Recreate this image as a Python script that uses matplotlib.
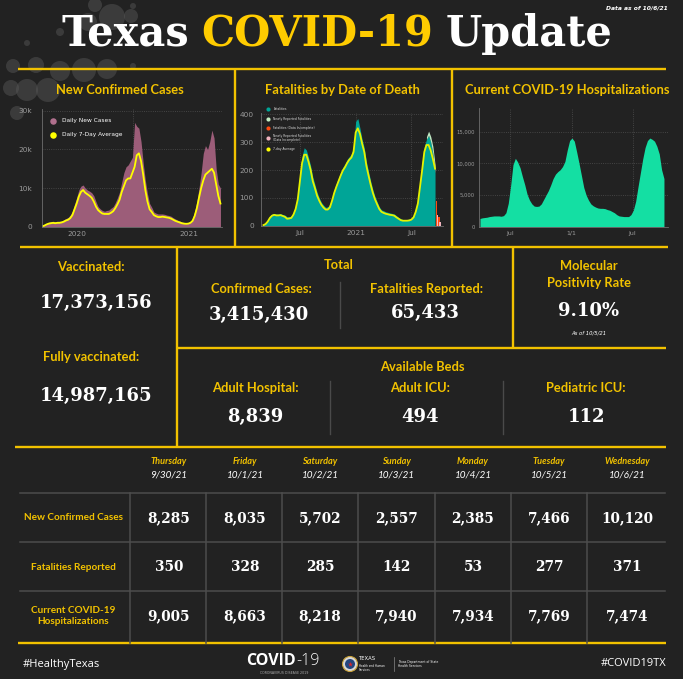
#!/usr/bin/env python3
import numpy as np
import matplotlib
matplotlib.use("Agg")
import matplotlib.pyplot as plt
from matplotlib.patches import Circle

# ---- data ----
updated = "10/6/21"

# weekly bins (value = tallest daily bar in the week / 7-day average)
cases_start = "2020-03-08"
cases_daily = [200, 500, 900, 1200, 1300, 1400, 1300, 1400, 1400, 1500,
               1800, 2100, 2400, 3000, 4000, 5800, 7500, 9500, 10500, 10800,
               10000, 9500, 9200, 8800, 8000, 6500, 5200, 4600, 4200, 4000,
               4200, 4300, 4800, 5200, 6200, 7500, 9000, 11500, 14000, 15500,
               16000, 17000, 18000, 27000, 26000, 25500, 22000, 16500, 12000, 8500,
               6000, 5000, 3800, 3500, 3300, 3300, 3300, 3200, 3000, 2900,
               2700, 2300, 2000, 1700, 1500, 1200, 1100, 1000, 1100, 1400,
               2200, 4000, 6500, 10000, 14000, 19000, 21000, 20000, 22000, 25000,
               23000, 15000, 11000, 10000]
cases_avg = [100, 300, 600, 800, 900, 1000, 900, 1000, 1000, 1100,
             1300, 1600, 1800, 2200, 3000, 4500, 6000, 7800, 9000, 9500,
             8800, 8400, 8000, 7500, 6500, 5200, 4300, 3800, 3400, 3300,
             3300, 3300, 3600, 4000, 4800, 5800, 7000, 9000, 10500, 12000,
             12500, 12500, 14000, 15500, 18500, 19000, 17000, 13500, 9500, 6500,
             4500, 3800, 3000, 2700, 2500, 2500, 2600, 2500, 2400, 2300,
             2100, 1800, 1500, 1300, 1100, 900, 800, 750, 800, 1000,
             1500, 2800, 4800, 7500, 10000, 12000, 13500, 14000, 14500, 15000,
             14000, 11000, 8000, 6000]

deaths_start = "2020-03-02"
deaths_daily = [3, 10, 22, 35, 42, 44, 42, 42, 43, 40,
                38, 32, 32, 35, 48, 72, 115, 190, 250, 280,
                272, 245, 215, 175, 148, 120, 100, 84, 74, 66,
                68, 78, 102, 130, 152, 172, 192, 210, 222, 238,
                248, 258, 285, 375, 385, 350, 310, 280, 230, 195,
                160, 130, 105, 86, 68, 57, 54, 50, 48, 46,
                44, 42, 36, 30, 25, 22, 22, 22, 24, 28,
                38, 60, 95, 160, 230, 285, 310, 325, 300, 260,
                190]
deaths_avg = [2, 6, 15, 28, 36, 39, 37, 37, 38, 35,
              32, 25, 26, 28, 40, 60, 95, 160, 225, 255,
              255, 230, 200, 160, 135, 108, 90, 75, 65, 58,
              58, 66, 90, 118, 140, 160, 180, 198, 210, 225,
              237, 245, 265, 335, 350, 330, 295, 265, 215, 180,
              147, 118, 95, 77, 60, 50, 46, 43, 41, 39,
              38, 36, 30, 25, 20, 18, 18, 18, 19, 22,
              30, 50, 80, 140, 200, 265, 290, 290, 270, 240,
              205]
newly_dates = ["2021-08-16", "2021-08-23", "2021-08-30", "2021-09-06", "2021-09-13"]
newly_reported = [10, 15, 20, 25, 30]
incomplete_dates = ["2021-09-20", "2021-09-27"]
incomplete = [90, 30]
newly_incomplete = [40, 15]

hosp_start = "2020-04-01"
hosp = [1300, 1400, 1450, 1500, 1600, 1650, 1700, 1700, 1700, 1650,
        1750, 2200, 3700, 6500, 9800, 10800, 10200, 9300, 7900, 6600,
        5100, 4200, 3600, 3250, 3200, 3250, 3600, 4300, 5000, 5700,
        6600, 7600, 8300, 8700, 9000, 9500, 10300, 12100, 13600, 14000,
        13500, 11800, 10000, 8100, 6200, 5000, 4200, 3600, 3300, 3100,
        2950, 2900, 2900, 2850, 2700, 2600, 2400, 2200, 1900, 1700,
        1650, 1600, 1600, 1600, 1900, 2600, 4000, 6300, 8500, 10700,
        12500, 13600, 14000, 13800, 13500, 12700, 11500, 9000, 7600]

vaccinated = 17373156
fully_vaccinated = 14987165
total_cases = 3415430
total_deaths = 65433
positivity = 9.10
positivity_date = "10/5/21"
bed_labels = ["Adult Hospital:", "Adult ICU:", "Pediatric ICU:"]
beds = [8839, 494, 112]

days = ["Thursday", "Friday", "Saturday", "Sunday", "Monday", "Tuesday", "Wednesday"]
day_dates = ["9/30/21", "10/1/21", "10/2/21", "10/3/21", "10/4/21", "10/5/21", "10/6/21"]
row_labels = ["New Confirmed Cases", "Fatalities Reported", "Current COVID-19\nHospitalizations"]
new_cases = [8285, 8035, 5702, 2557, 2385, 7466, 10120]
fatalities = [350, 328, 285, 142, 53, 277, 371]
hospitalized = [9005, 8663, 8218, 7940, 7934, 7769, 7474]

# ---- style ----
W, H = 683, 679
BG = '#222222'
GOLD = '#f2c200'
TITLE_GOLD = '#ffcc00'
TICK = '#9a9a9a'
LBL = dict(family='Lato', weight='bold', color=GOLD)
NUM = dict(family='DejaVu Serif', weight='bold', color='white')

fig = plt.figure(figsize=(W / 100, H / 100), dpi=100, facecolor=BG)
bg = fig.add_axes([0, 0, 1, 1])
bg.set_xlim(0, W)
bg.set_ylim(H, 0)
bg.axis('off')
R = fig.canvas.get_renderer()

# decorative bubbles top left
for x, y, r in [(112, 17, 13), (88, 22, 9), (95, 5, 7), (131, 16, 7), (60, 32, 4),
                (27, 43, 3), (133, 6, 3), (13, 66, 7), (36, 65, 8), (60, 71, 10),
                (84, 70, 12), (107, 69, 10), (133, 66, 3), (27, 90, 11), (48, 90, 12),
                (11, 88, 8), (17, 113, 7)]:
    bg.add_patch(Circle((x, y), r, color='#5a5a5a', alpha=0.45, lw=0, zorder=0))

# title
parts = [("Texas", 'white'), ("COVID-19", TITLE_GOLD), ("Update", 'white')]
ts = [bg.text(0, 46, s, color=c, fontsize=30, family='DejaVu Serif', weight='bold',
              va='baseline', ha='left') for s, c in parts]
ws = [t.get_window_extent(R).width for t in ts]
gap = 0.3 * 30 * 100 / 72
k = 551 / (sum(ws) + 2 * gap)
x = 61
for t, w in zip(ts, ws):
    t.set_fontsize(30 * k)
    t.set_x(x)
    x += (w + gap) * k
bg.text(668, 8, "Data as of " + updated, color='white', fontsize=4.3, style='italic',
        weight='bold', ha='right', va='center')

# frame lines
ylw = dict(color=GOLD, lw=1.7, solid_capstyle='butt', zorder=2)
for xs, ys in [([18, 666], [69, 69]), ([235, 235], [69, 247]), ([452, 452], [69, 247]),
               ([20, 668], [247, 247]), ([177, 177], [247, 447]), ([513, 513], [247, 348]),
               ([177, 666], [348, 348]), ([15, 666], [447, 447]), ([18, 666], [643, 643])]:
    bg.plot(xs, ys, **ylw)

# chart titles
for x, s in [(120, "New Confirmed Cases"), (342, "Fatalities by Date of Death"),
             (567, "Current COVID-19 Hospitalizations")]:
    bg.text(x, 90, s, fontsize=9.3, ha='center', va='center', **LBL)


def panel(x0, y0, x1, y1, ypad):
    ax = fig.add_axes([x0 / W, 1 - y1 / H, (x1 - x0) / W, (y1 - y0) / H])
    ax.set_facecolor('none')
    for s in ['top', 'right']:
        ax.spines[s].set_visible(False)
    for s in ['left', 'bottom']:
        ax.spines[s].set_color('#6e6e6e')
        ax.spines[s].set_linewidth(0.6)
    ax.tick_params(colors=TICK, labelsize=5.3, length=0)
    ax.tick_params(axis='x', pad=3)
    ax.tick_params(axis='y', pad=ypad)
    ax.set_axisbelow(True)
    return ax


def weeks(start, n):
    # mid-week positions of the weekly bins
    return np.datetime64(start) + 7 * np.arange(n) + np.timedelta64(3, 'D')


grid = dict(ls=':', color='#505050', lw=0.6)

# chart 1: new confirmed cases
ax1 = panel(41.7, 109.3, 222, 226.7, 7)
d1 = weeks(cases_start, len(cases_daily))
ax1.fill_between(d1, cases_daily, color='#9c5d79', lw=0)
ax1.plot(d1, cases_avg, color='#ffff00', lw=1.3)
ax1.set_xlim(np.datetime64('2020-03-09'), np.datetime64('2021-10-18'))
ax1.set_ylim(0, 30400)
ax1.set_yticks([0, 10000, 20000, 30000], ['0', '10k', '20k', '30k'])
ax1.set_xticks([np.datetime64('2020-07-01'), np.datetime64('2021-07-01')], ['2020', '2021'])
ax1.set_xticks([np.datetime64('2021-01-01')], minor=True)
ax1.tick_params(which='minor', length=0)
ax1.grid(True, axis='y', **grid)
ax1.grid(True, axis='x', which='minor', **grid)
for y, c, s in [(120.7, '#b0708d', "Daily New Cases"), (134.7, '#ffff00', "Daily 7-Day Average")]:
    bg.scatter([52.7], [y], s=22, color=c, lw=0, zorder=5)
    bg.text(61.7, y, s, color='white', fontsize=4.2, va='center', family='DejaVu Sans', zorder=5)

# chart 2: fatalities by date of death
ax2 = panel(260.7, 113, 443, 225.7, 5)
d2 = weeks(deaths_start, len(deaths_daily))
ax2.fill_between(d2, deaths_daily, color='#00a597', lw=0)
base = dict(zip(d2, deaths_daily))
dn = np.array(newly_dates, dtype='datetime64[D]') + np.timedelta64(3, 'D')
low = np.array([base[d] for d in dn])
ax2.fill_between(dn, low, low + np.array(newly_reported), color='#bfe8c4', lw=0)
di = np.array(incomplete_dates, dtype='datetime64[D]')
ax2.bar(di, incomplete, width=4, align='edge', color='#ff4a10', lw=0)
ax2.bar(di + np.timedelta64(3, 'D'), newly_incomplete, width=4, align='edge',
        color='#f2b4bf', lw=0)
ax2.plot(d2, deaths_avg, color='#e6f200', lw=1.3)
ax2.set_xlim(np.datetime64('2020-02-25'), np.datetime64('2021-10-12'))
ax2.set_ylim(0, 405)
ax2.set_yticks([0, 100, 200, 300, 400])
ax2.set_xticks([np.datetime64('2020-07-01'), np.datetime64('2021-01-01'),
                np.datetime64('2021-07-01')], ['Jul', '2021', 'Jul'])
ax2.grid(True, **grid)
leg2 = [('#00a597', "Fatalities"), ('#c4efc4', "Newly Reported Fatalities"),
        ('#ff4a10', "Fatalities (Data Incomplete)"),
        ('#f2b4bf', "Newly Reported Fatalities\n(Data Incomplete)"), ('#ffff00', "7-day Average")]
for y, (c, s) in zip([109.3, 119, 128.3, 138.3, 149], leg2):
    bg.scatter([268.3], [y], s=9, color=c, lw=0, zorder=5)
    bg.text(273.3, y, s, color='#dddddd', fontsize=2.2, va='center', linespacing=1.1, zorder=5)

# chart 3: hospitalizations
ax3 = panel(479.3, 108.3, 668, 226.7, 3)
d3 = weeks(hosp_start, len(hosp))
ax3.fill_between(d3, hosp, color='#14dfa3', lw=0)
ax3.set_xlim(np.datetime64('2020-04-02'), np.datetime64('2021-10-14'))
ax3.set_ylim(0, 18700)
ax3.set_yticks([0, 5000, 10000, 15000], ['0', '5,000', '10,000', '15,000'])
ax3.tick_params(axis='y', labelsize=3.8)
ax3.set_xticks([np.datetime64('2020-07-01'), np.datetime64('2021-01-01'),
                np.datetime64('2021-07-01')], ['Jul', '1/1', 'Jul'])
ax3.tick_params(axis='x', labelsize=4.5)
ax3.grid(True, **grid)

# summary blocks
bg.text(91, 267, "Vaccinated:", fontsize=9.3, ha='center', va='center', **LBL)
bg.text(96, 303, f"{vaccinated:,}", fontsize=13, ha='center', va='center', **NUM)
bg.text(91, 357, "Fully vaccinated:", fontsize=9.3, ha='center', va='center', **LBL)
bg.text(96, 396, f"{fully_vaccinated:,}", fontsize=13, ha='center', va='center', **NUM)

bg.text(339, 265, "Total", fontsize=9.3, ha='center', va='center', **LBL)
bg.text(261, 289, "Confirmed Cases:", fontsize=9.3, ha='center', va='center', **LBL)
bg.text(259, 315, f"{total_cases:,}", fontsize=13, ha='center', va='center', **NUM)
bg.text(427, 289, "Fatalities Reported:", fontsize=9.3, ha='center', va='center', **LBL)
bg.text(425, 313, f"{total_deaths:,}", fontsize=13, ha='center', va='center', **NUM)
bg.plot([340, 340], [282, 328], color='#4a4a4a', lw=1)

bg.text(589, 266, "Molecular", fontsize=9.3, ha='center', va='center', **LBL)
bg.text(589, 283, "Positivity Rate", fontsize=9.3, ha='center', va='center', **LBL)
bg.text(589, 311, f"{positivity:.2f}%", fontsize=13, ha='center', va='center', **NUM)
bg.text(589, 333, "As of " + positivity_date, fontsize=3.8, color='white', style='italic',
        ha='center', va='center')

bg.text(422, 367, "Available Beds", fontsize=9.3, ha='center', va='center', **LBL)
for x, s, v in zip([255, 420, 586], bed_labels, beds):
    bg.text(x, 388, s, fontsize=9.3, ha='center', va='center', **LBL)
    bg.text(x, 417, f"{v:,}", fontsize=13, ha='center', va='center', **NUM)
for x in [330, 503]:
    bg.plot([x, x], [381, 434], color='#4a4a4a', lw=1)

# daily table
gl = dict(color='#4d4d4d', lw=1.1)
for y in [493, 542, 591]:
    bg.plot([20, 665], [y, y], **gl)
for x in [130, 206, 282, 358, 435, 511, 587]:
    bg.plot([x, x], [493, 643], **gl)
cols = [169, 245, 320, 396, 473, 549, 627]
for x, dname, dd in zip(cols, days, day_dates):
    bg.text(x, 461, dname, fontsize=6.6, style='italic', ha='center', va='center', **LBL)
    bg.text(x, 475, dd, fontsize=7.2, family='Lato', style='italic', color='white',
            ha='center', va='center')
for y, lab, vals in zip([518, 567, 616], row_labels, [new_cases, fatalities, hospitalized]):
    bg.text(73, y, lab, fontsize=7.2, ha='center', va='center', linespacing=1.3, **LBL)
    for x, v in zip(cols, vals):
        bg.text(x, y, f"{v:,}", fontsize=9.8, ha='center', va='center', **NUM)

# footer
bg.text(23, 664, "#HealthyTexas", color='white', fontsize=8, family='Open Sans',
        ha='left', va='center')
bg.text(666, 664, "#COVID19TX", color='white', fontsize=8, family='Open Sans',
        ha='right', va='center')
bg.text(296, 661, "COVID", color='white', fontsize=11.5, family='Open Sans', weight='bold',
        ha='right', va='center')
bg.text(296, 661, "-19", color='white', fontsize=11.5, family='Open Sans', weight='light',
        ha='left', va='center')
bg.text(284, 673, "CORONAVIRUS DISEASE 2019", color='#aaaaaa', fontsize=2.3,
        ha='center', va='center')
bg.add_patch(Circle((350, 664), 7.5, fc='#d8d8d8', ec='#c9a23a', lw=0.8))
bg.add_patch(Circle((350, 664), 5, fc='#24467f', lw=0))
bg.scatter([350], [664], marker='*', s=14, color='#d8262a', lw=0, zorder=5)
bg.text(359, 659, "TEXAS", color='white', fontsize=3.8, ha='left', va='center')
bg.text(359, 668, "Health and Human\nServices", color='white', fontsize=2, ha='left',
        va='center', linespacing=1.1)
bg.plot([394, 394], [657, 671], color='#888888', lw=0.5)
bg.text(398, 664, "Texas Department of State\nHealth Services", color='white', fontsize=2.2,
        ha='left', va='center', linespacing=1.2)

fig.savefig('out.png', dpi=100, facecolor=BG)
